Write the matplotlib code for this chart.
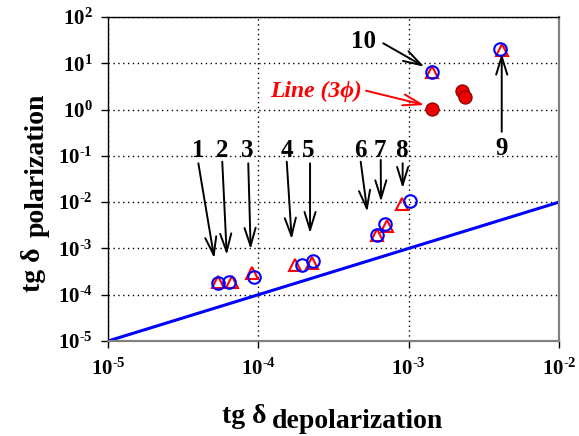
import numpy as np
import matplotlib
matplotlib.use("Agg")
import matplotlib.pyplot as plt

plt.rcParams['font.family'] = ['Liberation Serif', 'DejaVu Serif']
plt.rcParams['font.weight'] = 'bold'
plt.rcParams['mathtext.fontset'] = 'custom'
plt.rcParams['mathtext.rm'] = 'Liberation Serif:bold'
plt.rcParams['mathtext.bf'] = 'Liberation Serif:bold'
plt.rcParams['mathtext.it'] = 'Liberation Serif:italic:bold'
plt.rcParams['axes.unicode_minus'] = False

# ---- data (log10 values) ----
labels = ['1', '2', '3', '4', '5', '6', '7', '8', '9', '10']
tri_logx = [-4.270, -4.173, -4.044, -3.756, -3.645, -3.209, -3.146, -3.042, -2.381, -2.843]
tri_logy = [-3.718, -3.718, -3.524, -3.358, -3.321, -2.709, -2.515, -2.040, 1.287, 0.818]
circ_logx = [-4.266, -4.193, -4.029, -3.712, -3.634, -3.209, -3.155, -2.991, -2.392, -2.843]
circ_logy = [-3.753, -3.731, -3.610, -3.358, -3.265, -2.709, -2.478, -1.975, 1.302, 0.818]
line3_logx = [-2.843, -2.643, -2.625]
line3_logy = [0.006, 0.401, 0.265]
ref_line = [1e-5, 1e-2]

# label positions (log10) and arrows (tail -> tip, log10)
lab_logx = [-4.399, -4.240, -4.077, -3.811, -3.672, -3.324, -3.191, -3.046, -2.381, -3.302]
lab_logy = [-1.024, -1.024, -1.024, -1.024, -1.024, -1.024, -1.024, -1.024, -0.981, 1.330]
arr_tail = [(-4.399, -1.161), (-4.240, -1.126), (-4.067, -1.161), (-3.811, -1.126),
            (-3.656, -1.161), (-3.319, -1.126), (-3.186, -1.089), (-3.040, -1.161),
            (-2.381, -0.478), (-3.169, 1.432)]
arr_tip = [(-4.293, -3.213), (-4.210, -3.141), (-4.051, -3.018), (-3.778, -2.802),
           (-3.656, -2.673), (-3.275, -2.206), (-3.184, -1.990), (-3.040, -1.701),
           (-2.381, 1.216), (-2.896, 0.926)]
red_tail = (-3.284, 0.408)
red_tip = (-2.896, 0.099)
red_label_pos = (-3.922, 0.278)

xticks = [1e-5, 1e-4, 1e-3, 1e-2]
yticks = [1e-5, 1e-4, 1e-3, 1e-2, 1e-1, 1e0, 1e1, 1e2]


def tick_text(v):
    e = int(round(np.log10(v)))
    if e < 0:
        return r'$\mathdefault{10^{\text{-}%d}}$' % (-e)
    return r'$\mathdefault{10^{%d}}$' % e


fig = plt.figure(figsize=(5.79, 4.36), dpi=100)
ax = fig.add_axes([108/579, 1-341/436, (559-108)/579, (341-17)/436])
ax.set_xscale('log')
ax.set_yscale('log')
ax.set_xlim(1e-5, 1e-2)
ax.set_ylim(1e-5, 1e2)

ax.grid(True, which='major', linestyle=(0, (1, 2.5)), color='black', linewidth=1.0)
ax.set_axisbelow(True)

ax.plot(ref_line, ref_line, color='#0000ff', linewidth=2.2, zorder=2)

p10 = lambda v: [10**a for a in v]
ax.plot(p10(tri_logx), p10(tri_logy), linestyle='none', marker='^', markersize=9,
        markerfacecolor='none', markeredgecolor='#ff0000', markeredgewidth=1.5, zorder=3)
ax.plot(p10(circ_logx), p10(circ_logy), linestyle='none', marker='o', markersize=9,
        markerfacecolor='none', markeredgecolor='#0000ff', markeredgewidth=1.5, zorder=4)
ax.plot(p10(line3_logx), p10(line3_logy), linestyle='none', marker='o', markersize=9.5,
        markerfacecolor='#ee0000', markeredgecolor='#800000', markeredgewidth=0.8, zorder=4)

for lab, lx, ly in zip(labels, lab_logx, lab_logy):
    ax.text(10**lx, 10**ly, lab, fontsize=18, fontweight='bold', ha='center', va='baseline')

for (tx, ty), (hx, hy) in zip(arr_tail, arr_tip):
    ax.annotate('', xy=(10**hx, 10**hy), xytext=(10**tx, 10**ty),
                arrowprops=dict(arrowstyle='->,head_length=1.3,head_width=0.4',
                                color='black', lw=1.4, mutation_scale=10,
                                shrinkA=0, shrinkB=0))

ax.annotate('', xy=(10**red_tip[0], 10**red_tip[1]), xytext=(10**red_tail[0], 10**red_tail[1]),
            arrowprops=dict(arrowstyle='->,head_length=1.3,head_width=0.4',
                            color='#ff0000', lw=1.4, mutation_scale=10,
                            shrinkA=0, shrinkB=0))
ax.text(10**red_label_pos[0], 10**red_label_pos[1], 'Line (3ϕ)', color='#ff0000',
        fontsize=17, fontweight='bold', fontstyle='italic', ha='left', va='baseline')

ax.set_xticks(xticks)
ax.set_yticks(yticks)
ax.set_xticklabels([tick_text(v) for v in xticks])
ax.set_yticklabels([tick_text(v) for v in yticks])
ax.minorticks_off()
ax.tick_params(axis='both', which='major', direction='out', length=5, width=1,
               labelsize=15)
ax.tick_params(axis='x', pad=8)
ax.tick_params(axis='y', pad=6)

for s in ['left', 'top']:
    ax.spines[s].set_color('black')
    ax.spines[s].set_linewidth(1.0)
for s in ['right', 'bottom']:
    ax.spines[s].set_color('#808080')
    ax.spines[s].set_linewidth(1.6)

# axis labels built from two pieces (subscript shifted down)
fig.text(222/579, 1-423/436, 'tg δ', fontsize=20, fontweight='bold', ha='left', va='baseline')
fig.text(272/579, 1-428/436, 'depolarization', fontsize=20, fontweight='bold', ha='left', va='baseline')
fig.text(40/579, 1-292/436, 'tg δ', fontsize=20, fontweight='bold', rotation=90,
         rotation_mode='anchor', ha='left', va='baseline')
fig.text(44/579, 1-237/436, 'polarization', fontsize=20, fontweight='bold', rotation=90,
         rotation_mode='anchor', ha='left', va='baseline')

fig.savefig('out.png', dpi=100)
